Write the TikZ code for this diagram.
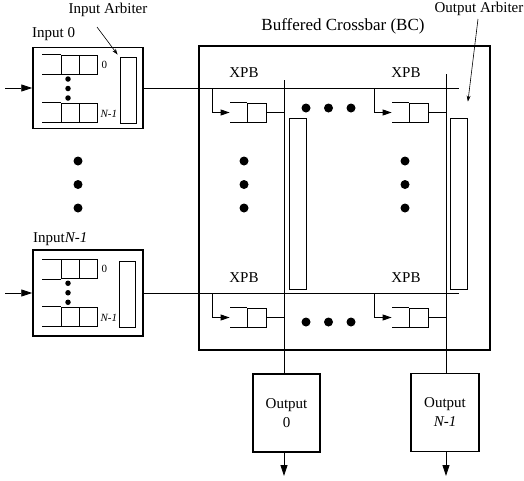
\documentclass[tikz,border=0pt]{standalone}
\usepackage{fontspec}
\setmainfont{Liberation Serif}
\usetikzlibrary{arrows.meta,positioning}

\begin{document}
\begin{tikzpicture}[x=1pt,y=-1pt,
  box/.style={draw,line width=1.5pt,inner sep=0pt},
  cell/.style={draw,line width=0.8pt,minimum width=18pt,minimum height=19pt,inner sep=0pt},
  arb/.style={draw,line width=0.8pt,inner sep=0pt},
  bigdot/.style={circle,fill,inner sep=0pt,minimum size=9pt},
  smalldot/.style={circle,fill,inner sep=0pt,minimum size=5.5pt},
  lbl/.style={font=\fontsize{15}{19}\selectfont,inner sep=0pt},
  tiny/.style={font=\fontsize{11}{13}\selectfont,inner sep=0pt},
  wire/.style={line width=0.8pt},
  bigtip/.style={wire,-{Triangle[length=11pt,width=7pt]}},
  smalltip/.style={wire,-{Triangle[length=9pt,width=6pt]}},
  note/.style={line width=0.6pt,-{Stealth[length=6pt,width=4pt]}}
]
  \useasboundingbox (0,0) rectangle (524,480);
  % Input ports
  \node[box,minimum width=110pt,minimum height=81pt] (in0) at (88,88) {};
  \node[box,minimum width=110pt,minimum height=86pt] (in1) at (88,293) {};
  \node[lbl,anchor=west] (in0lbl) at (32,34) {Input 0};
  \node[lbl,anchor=west] (in1lbl) at (33,239) {Input\textit{N-1}};
  \node[arb,minimum width=16pt,minimum height=66pt] (arb0) at (128,90) {};
  \node[arb,minimum width=16pt,minimum height=66pt] (arb1) at (127,294) {};
  \coordinate (src0) at (5,88);
  \coordinate (src1) at (5,293);
  \coordinate (row0) at (459,88);
  \coordinate (row1) at (459,293);
  \foreach \b/\yt/\yb in {0/64.5/112.5, 1/269/316.5} {
    \foreach \k/\y in {t/\yt, b/\yb} {
      \node[cell] (q\b\k1) at (70,\y) {};
      \node[cell] (q\b\k2) at (88,\y) {};
      \draw[wire] (q\b\k1.north west) -- ++(-19,0) (q\b\k1.south west) -- ++(-19,0);
    }
    \node[smalldot] (d\b1) at (68,{(\yt+\yb)/2-9.5}) {};
    \node[smalldot] (d\b2) at (68,{(\yt+\yb)/2}) {};
    \node[smalldot] (d\b3) at (68,{(\yt+\yb)/2+9.5}) {};
    \node[tiny,right=4pt of q\b t2] (z\b) {0};
    \node[tiny,right=3pt of q\b b2,yshift=-1pt] (n\b) {\textit{N-1}};
    % Arrows
    \draw[bigtip] (src\b) -- (in\b.west);
    \draw[wire] (in\b.east) -- (row\b);
  }
  % Crossbar
  \node[box,minimum width=291pt,minimum height=304pt] (bc) at (344.5,198) {};
  \node[font=\fontsize{17}{19}\selectfont,inner sep=0pt] (bclbl) at (343,26) {Buffered Crossbar (BC)};
  \coordinate (col0) at (284,80);
  \coordinate (col1) at (446,74);
  \node[arb,minimum width=17pt,minimum height=171pt] (oa0) at (297.5,203.5) {};
  \node[arb,minimum width=17pt,minimum height=171pt] (oa1) at (459,203.5) {};
  \foreach \r/\ry in {0/88,1/293} {
    \foreach \c/\cx in {0/284,1/446} {
      \node[cell,minimum width=19pt] (xb\r\c) at (\cx-27.5,\ry+24.5) {};
      \draw[wire] (xb\r\c.north west) -- ++(-17,0) (xb\r\c.south west) -- ++(-17,0);
      \coordinate (br\r\c) at (\cx-72,\ry);
      \draw[smalltip] (br\r\c) |- ([xshift=-17pt]xb\r\c.west);
      \draw[wire] (xb\r\c.east) -- (xb\r\c.east -| col\c);
      \node[lbl] (xl\r\c) at (\cx-40,\ry-15) {XPB};
    }
  }
  \foreach \i/\x in {1/306,2/328.5,3/351} {
    \node[bigdot] (ht\i) at (\x,108) {};
    \node[bigdot] (hb\i) at (\x,322) {};
  }
  \foreach \i/\y in {1/161,2/184.5,3/208} {
    \node[bigdot] (vl\i) at (78,\y) {};
    \node[bigdot] (v0\i) at (244,\y) {};
    \node[bigdot] (v1\i) at (405,\y) {};
  }
  % Output ports
  \node[box,lbl,minimum width=67pt,minimum height=78pt,align=center] (out0) at (286.5,413) {Output\\0};
  \node[box,lbl,minimum width=68pt,minimum height=78pt,align=center] (out1) at (445,412.5) {Output\\\textit{N-1}};
  \coordinate (sink0) at (284,476);
  \coordinate (sink1) at (446,476);
  \foreach \c in {0,1} {
    \draw[wire] (col\c) -- (col\c |- out\c.north);
    \draw[bigtip] (col\c |- out\c.south) -- (sink\c);
  }
  % Arbiter labels
  \node[lbl] (iarb) at (108,10) {Input Arbiter};
  \draw[note] ([xshift=-11pt,yshift=-10pt]iarb.south) -- ([shift={(-2pt,2pt)}]arb0.north west);
  \node[lbl] (oarb) at (479,9) {Output Arbiter};
  \draw[note] ([xshift=-1pt,yshift=-3pt]oarb.south) -- ([yshift=16pt]oa1.north east);
\end{tikzpicture}
\end{document}
